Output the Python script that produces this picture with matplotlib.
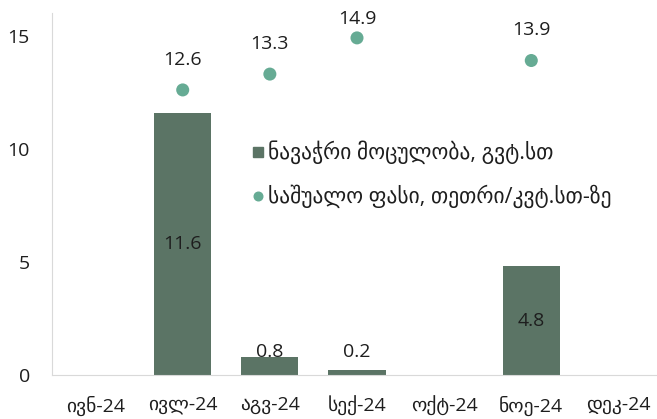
import matplotlib
matplotlib.use("Agg")
import matplotlib.pyplot as plt
from matplotlib.lines import Line2D
import numpy as np

FAM = ['Open Sans', 'DejaVu Sans']
plt.rcParams['font.family'] = FAM

categories = ["ივნ-24", "ივლ-24", "აგვ-24", "სექ-24", "ოქტ-24", "ნოე-24", "დეკ-24"]
volume = [None, 11.6, 0.8, 0.2, None, 4.8, None]
price = [None, 12.6, 13.3, 14.9, None, 13.9, None]
vol_label = "ნავაჭრი მოცულობა, გვტ.სთ"
price_label = "საშუალო ფასი, თეთრი/კვტ.სთ-ზე"

bar_color = "#5b7465"
dot_color = "#66ab94"
text_color = "#1e1e1e"

W, H = 657, 419
fig = plt.figure(figsize=(W / 100, H / 100), dpi=100)
ax = fig.add_axes([52 / W, 1 - 375 / H, 610 / W, (375 - 13) / H])

x = np.arange(len(categories))
for xi, v in zip(x, volume):
    if v is None:
        continue
    ax.bar(xi, v, width=0.655, color=bar_color, zorder=2)
    ax.text(xi, max(v / 2, 1.0), f"{v:.1f}", ha="center", va="center",
            fontsize=14, color=text_color, zorder=4)

for xi, p in zip(x, price):
    if p is None:
        continue
    ax.scatter(xi, p, s=88, color=dot_color, zorder=3, edgecolors="none")
    ax.text(xi, min(p + 1.33, 15.75), f"{p:.1f}", ha="center", va="center",
            fontsize=14, color=text_color)

ax.set_xlim(-0.5, len(categories) - 0.5)
ax.set_ylim(0, 16)
ax.set_yticks([0, 5, 10, 15])
ax.set_xticks(x)
ax.set_xticklabels(categories, fontsize=14, color=text_color)
ax.tick_params(axis="y", length=0, labelsize=14, labelcolor=text_color, pad=16)
ax.tick_params(axis="x", length=0, pad=15)
for s in ["top", "right"]:
    ax.spines[s].set_visible(False)
ax.spines["left"].set_color("#d9d9d9")
ax.spines["bottom"].set_color("#d9d9d9")

handles = [
    Line2D([], [], marker="s", linestyle="none", color=bar_color, markersize=7.4),
    Line2D([], [], marker="o", linestyle="none", color=dot_color, markersize=6.2),
]
fig.legend(handles, [vol_label, price_label], loc="upper left",
           bbox_to_anchor=(243 / W, 1 - 132 / H), frameon=False,
           fontsize=15.5, handletextpad=0.17, labelspacing=0.95,
           handlelength=0.6, borderaxespad=0, labelcolor=text_color)

fig.savefig("out.png", dpi=100)
